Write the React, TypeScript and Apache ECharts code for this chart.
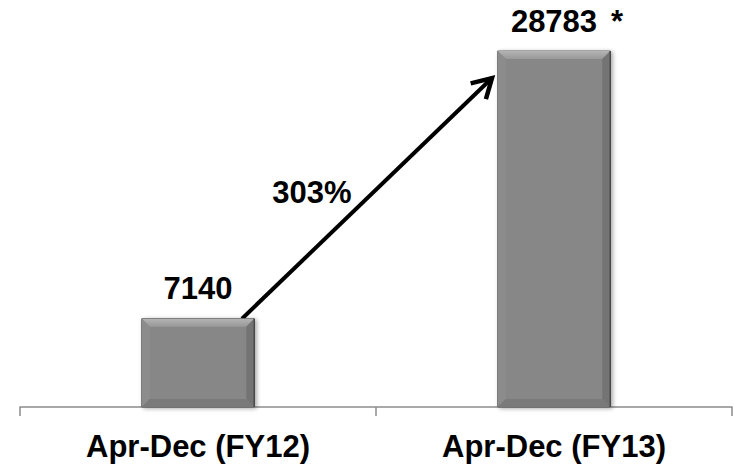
import React, { useEffect, useRef } from "react";
import * as echarts from "echarts";

const categories = ["Apr-Dec (FY12)", "Apr-Dec (FY13)"];
const values = [7140, 28783];
const valueNotes = ["", "*"];

const FONT = "'Liberation Sans', Arial, Helvetica, sans-serif";

export default function App() {
  const ref = useRef<HTMLDivElement>(null);

  useEffect(() => {
    if (!ref.current) return;
    const chart = echarts.init(ref.current, undefined, { renderer: "svg" });

    const renderItem = (params: any, api: any) => {
      const i = api.value(0);
      const v = api.value(1);
      const top = api.coord([i, v]);
      const base = api.coord([i, 0]);
      const w = api.size([1, 0])[0] * 0.316;
      const x0 = top[0] - w / 2;
      const x1 = top[0] + w / 2;
      const y0 = top[1];
      const y1 = base[1];
      const b = 8;
      return {
        type: "group",
        children: [
          {
            type: "rect",
            shape: { x: x0, y: y0, width: w, height: y1 - y0 },
            style: {
              fill: "#878787",
              stroke: "#5a5a5a",
              lineWidth: 1,
              shadowColor: "rgba(0,0,0,0.35)",
              shadowBlur: 4,
              shadowOffsetX: 2,
              shadowOffsetY: 1,
            },
          },
          {
            type: "polygon",
            shape: { points: [[x0, y0], [x1, y0], [x1 - b, y0 + b], [x0 + b, y0 + b]] },
            style: {
              fill: new echarts.graphic.LinearGradient(0, 0, 0, 1, [
                { offset: 0, color: "#b4b4b4" },
                { offset: 1, color: "#989898" },
              ]),
            },
          },
          {
            type: "polygon",
            shape: { points: [[x0, y0], [x0 + b, y0 + b], [x0 + b, y1 - b], [x0, y1]] },
            style: { fill: "#8c8c8c" },
          },
          {
            type: "polygon",
            shape: { points: [[x1, y0], [x1, y1], [x1 - b, y1 - b], [x1 - b, y0 + b]] },
            style: { fill: "#747474" },
          },
          {
            type: "polygon",
            shape: { points: [[x0, y1], [x0 + b, y1 - b], [x1 - b, y1 - b], [x1, y1]] },
            style: { fill: "#7a7a7a" },
          },
          {
            type: "line",
            shape: { x1: x1, y1: y0, x2: x1, y2: y1 },
            style: { stroke: "#4a4a4a", lineWidth: 1.5 },
          },
          {
            type: "text",
            x: top[0],
            y: y0 - 30,
            style: {
              text: String(v),
              align: "center",
              verticalAlign: "middle",
              font: `bold 31px ${FONT}`,
              fill: "#000",
            },
          },
          {
            type: "text",
            x: top[0] + 57,
            y: y0 - 30,
            style: {
              text: valueNotes[i] || "",
              align: "left",
              verticalAlign: "middle",
              font: `bold 31px ${FONT}`,
              fill: "#000",
            },
          },
        ],
      };
    };

    chart.setOption({
      animation: false,
      grid: { left: 20, right: 2, top: 36, bottom: 57, containLabel: false },
      xAxis: {
        type: "category",
        data: categories,
        boundaryGap: true,
        axisLine: { show: true, lineStyle: { color: "#8c8c8c", width: 1.5 } },
        axisTick: { show: true, length: 9, interval: 0, lineStyle: { color: "#8c8c8c", width: 1.5 } },
        axisLabel: {
          margin: 24,
          color: "#000",
          fontSize: 31,
          fontWeight: "bold",
          fontFamily: FONT,
          interval: 0,
        },
      },
      yAxis: {
        type: "value",
        min: 0,
        max: 30000,
        show: false,
        splitLine: { show: false },
      },
      series: [
        {
          type: "custom",
          renderItem,
          encode: { x: 0, y: 1 },
          data: values.map((v, i) => [i, v]),
        },
      ],
    });

    const p0 = chart.convertToPixel({ seriesIndex: 0 }, [0, values[0]]) as number[];
    const p1 = chart.convertToPixel({ seriesIndex: 0 }, [1, values[1]]) as number[];
    const sx = p0[0] + 44;
    const sy = p0[1];
    const ex = p1[0] - 62;
    const ey = p1[1] + 27;
    const ang = Math.atan2(sy - ey, sx - ex);
    const arm = 22;
    const spread = Math.PI / 6;
    const a1 = [ex + arm * Math.cos(ang + spread), ey + arm * Math.sin(ang + spread)];
    const a2 = [ex + arm * Math.cos(ang - spread), ey + arm * Math.sin(ang - spread)];
    const growth = Math.round(((values[1] - values[0]) / values[0]) * 100);
    const mx = (sx + ex) / 2;
    const my = (sy + ey) / 2;

    chart.setOption({
      graphic: [
        {
          type: "line",
          shape: { x1: sx, y1: sy, x2: ex, y2: ey },
          style: { stroke: "#000", lineWidth: 4 },
        },
        {
          type: "polyline",
          shape: { points: [a1, [ex, ey], a2] },
          style: { stroke: "#000", lineWidth: 4.5, fill: null, lineJoin: "miter" },
        },
        {
          type: "text",
          x: mx - 55,
          y: my - 6,
          style: {
            text: `${growth}%`,
            align: "center",
            verticalAlign: "middle",
            font: `bold 31px ${FONT}`,
            fill: "#000",
          },
        },
      ],
    });

    return () => chart.dispose();
  }, []);

  return (
    <div
      ref={ref}
      style={{ position: "fixed", left: 0, top: 0, width: 734, height: 464, background: "#fff" }}
    />
  );
}
